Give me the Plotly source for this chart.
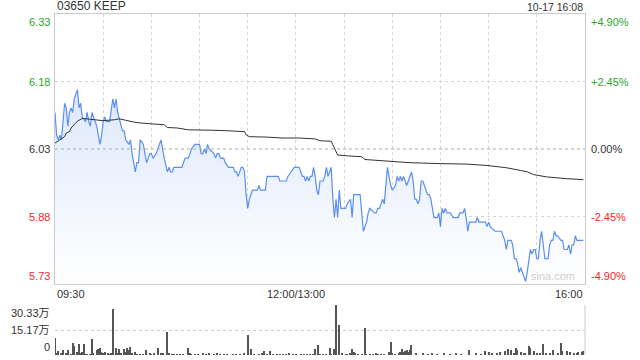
import plotly.graph_objects as go

# ---------------- data ----------------
title_text = "03650 KEEP"
stamp_text = "10-17 16:08"
prev_close = 6.03
pct_limit = 0.049
x_tick_labels = ["09:30", "12:00/13:00", "16:00"]
price_tick_labels = ["6.33", "6.18", "6.03", "5.88", "5.73"]
pct_tick_labels = ["+4.90%", "+2.45%", "0.00%", "-2.45%", "-4.90%"]
pct_levels = [0.049, 0.0245, 0.0, -0.0245, -0.049]
vol_tick_labels = ["30.33万", "15.17万", "0"]
vol_max = 303300

price_times = [
    "09:30","09:31","09:32","09:33","09:34","09:35","09:36","09:37","09:38","09:39",
    "09:40","09:41","09:42","09:44","09:45","09:46","09:47","09:49","09:50","09:51",
    "09:52","09:53","09:54","09:55","09:56","09:57","09:58","09:59","10:00","10:01",
    "10:02","10:04","10:06","10:07","10:08","10:09","10:11","10:12","10:13","10:14",
    "10:16","10:17","10:18","10:19","10:20","10:21","10:22","10:23","10:25","10:26",
    "10:27","10:28","10:29","10:30","10:31","10:33","10:34","10:35","10:36","10:37",
    "10:38","10:40","10:41","10:42","10:43","10:44","10:49","10:50","10:51","10:53",
    "10:55","10:57","11:00","11:01","11:02","11:03","11:04","11:05","11:06","11:09",
    "11:10","11:11","11:12","11:13","11:15","11:16","11:18","11:21","11:22","11:23",
    "11:24","11:25","11:26","11:27","11:28","11:29","11:30","11:31","11:32","11:33",
    "11:36","11:37","11:38","11:41","11:42","11:49","11:50","11:54","11:55","11:57",
    "11:59","13:02","13:04","13:05","13:06","13:07","13:08","13:09","13:10","13:11",
    "13:12","13:13","13:14","13:15","13:16","13:17","13:18","13:19","13:20","13:21",
    "13:22","13:23","13:24","13:25","13:26","13:27","13:28","13:29","13:31","13:32",
    "13:34","13:35","13:36","13:40","13:41","13:42","13:43","13:44","13:45","13:46",
    "13:49","13:50","13:51","13:52","13:53","13:54","13:55","13:56","13:57","13:58",
    "13:59","14:00","14:02","14:03","14:04","14:05","14:06","14:07","14:08","14:09",
    "14:10","14:12","14:13","14:14","14:15","14:16","14:17","14:18","14:19","14:20",
    "14:21","14:22","14:23","14:24","14:25","14:26","14:27","14:28","14:29","14:30",
    "14:31","14:32","14:33","14:34","14:36","14:38","14:39","14:41","14:42","14:44",
    "14:45","14:46","14:47","14:48","14:52","14:53","14:54","14:58","14:59","15:00",
    "15:01","15:04","15:05","15:08","15:09","15:10","15:11","15:12","15:14","15:15",
    "15:16","15:17","15:18","15:19","15:20","15:21","15:22","15:23","15:24","15:25",
    "15:26","15:27","15:28","15:29","15:30","15:31","15:32","15:33","15:34","15:35",
    "15:37","15:38","15:39","15:40","15:41","15:42","15:43","15:45","15:46","15:47",
    "15:48","15:49","15:50","15:51","15:52","15:53","15:54","15:55","15:59",
]
price_values = [
    6.11,6.06,6.05,6.06,6.05,6.09,6.13,6.12,6.08,6.11,
    6.12,6.11,6.14,6.16,6.12,6.13,6.10,6.09,6.11,6.09,
    6.08,6.11,6.10,6.09,6.08,6.06,6.04,6.06,6.09,6.10,
    6.09,6.09,6.14,6.12,6.14,6.11,6.08,6.07,6.07,6.05,
    6.04,6.05,6.02,6.00,5.98,6.00,6.00,6.05,6.04,6.02,
    6.00,6.01,6.02,6.02,6.01,6.02,6.03,6.04,6.05,6.03,
    6.01,5.98,5.99,5.98,5.98,5.99,5.99,6.00,6.01,6.01,
    6.03,6.04,6.04,6.02,6.02,6.03,6.02,6.04,6.03,6.02,
    6.01,6.02,6.02,6.01,6.01,6.00,5.99,5.99,5.98,5.98,
    5.97,5.98,5.99,5.99,5.98,5.93,5.90,5.92,5.93,5.94,
    5.94,5.95,5.94,5.94,5.97,5.97,5.96,5.96,5.97,5.98,
    5.99,5.99,5.97,5.97,5.96,5.97,5.96,5.97,5.97,5.99,
    5.97,5.94,5.93,5.96,5.96,5.96,5.97,5.99,5.97,5.98,
    5.99,5.92,5.88,5.92,5.88,5.94,5.90,5.90,5.90,5.91,
    5.92,5.88,5.93,5.93,5.89,5.85,5.86,5.87,5.89,5.90,
    5.89,5.89,5.90,5.90,5.91,5.92,5.91,5.95,5.99,5.97,
    5.95,5.94,5.95,5.97,5.96,5.97,5.96,5.97,5.96,5.95,
    5.96,5.98,5.96,5.92,5.92,5.91,5.92,5.96,5.96,5.95,
    5.94,5.93,5.93,5.92,5.90,5.88,5.88,5.88,5.89,5.86,
    5.90,5.89,5.90,5.89,5.89,5.88,5.88,5.88,5.89,5.89,
    5.90,5.88,5.85,5.87,5.87,5.88,5.87,5.87,5.86,5.87,
    5.86,5.85,5.85,5.85,5.84,5.83,5.81,5.83,5.83,5.82,
    5.79,5.79,5.78,5.76,5.77,5.76,5.75,5.74,5.76,5.79,
    5.81,5.80,5.81,5.81,5.79,5.79,5.83,5.85,5.82,5.79,
    5.79,5.82,5.83,5.83,5.85,5.84,5.84,5.83,5.83,5.81,
    5.81,5.81,5.82,5.80,5.82,5.82,5.84,5.83,5.83,
]

avg_times = [
    "09:30","09:33","09:36","09:37","09:39","09:40","09:42","09:44","09:47","09:50",
    "09:56","10:00","10:07","10:10","10:14","10:16","10:19","10:23","10:30","10:38",
    "10:40","10:46","10:53","11:00","11:09","11:17","11:28","11:29","11:31","11:42",
    "11:52","13:02","13:12","13:15","13:22","13:23","13:25","13:26","13:32","13:41",
    "13:43","13:56","14:11","14:30","14:46","14:59","15:11","15:20","15:24","15:28",
    "15:36","15:49","15:59",
]
avg_values = [
    6.043,6.050,6.057,6.065,6.068,6.076,6.083,6.091,6.097,6.096,
    6.093,6.092,6.094,6.096,6.093,6.091,6.089,6.087,6.085,6.083,
    6.077,6.076,6.072,6.072,6.071,6.070,6.068,6.061,6.057,6.056,
    6.054,6.054,6.052,6.048,6.047,6.039,6.022,6.017,6.015,6.013,
    6.007,6.004,6.000,5.998,5.997,5.994,5.989,5.983,5.980,5.974,
    5.969,5.965,5.963,
]

vol_times = [
    "09:30","09:31","09:32","09:34","09:35","09:37","09:38","09:40","09:41","09:42",
    "09:44","09:45","09:46","09:47","09:48","09:49","09:50","09:52","09:53","09:54",
    "09:56","09:57","09:58","09:59","10:00","10:01","10:03","10:04","10:05","10:06",
    "10:08","10:09","10:10","10:11","10:13","10:14","10:15","10:16","10:17","10:18",
    "10:20","10:21","10:23","10:25","10:27","10:29","10:30","10:32","10:34","10:36",
    "10:37","10:40","10:41","10:43","10:44","10:46","10:48","10:50","10:53","10:54",
    "10:55","10:57","10:59","11:02","11:04","11:06","11:09","11:11","11:13","11:15",
    "11:17","11:21","11:23","11:25","11:28","11:30","11:32","11:34","11:37","11:39",
    "11:40","11:42","11:44","11:46","11:48","11:50","11:52","11:54","11:56","11:58",
    "12:00","13:03","13:05","13:07","13:09","13:11","13:12","13:14","13:15","13:17",
    "13:19","13:21","13:22","13:24","13:25","13:27","13:29","13:31","13:32","13:34",
    "13:35","13:36","13:37","13:39","13:41","13:43","13:44","13:46","13:48","13:50",
    "13:51","13:53","13:55","13:58","13:59","14:00","14:02","14:04","14:05","14:06",
    "14:07","14:08","14:09","14:10","14:11","14:12","14:15","14:19","14:22","14:25",
    "14:28","14:32","14:36","14:40","14:43","14:48","14:52","14:55","14:58","15:00",
    "15:02","15:05","15:07","15:10","15:12","15:14","15:16","15:17","15:18","15:20",
    "15:22","15:23","15:25","15:26","15:28","15:30","15:32","15:34","15:36","15:38",
    "15:40","15:43","15:45","15:46","15:49","15:51","15:53","15:55","15:56","15:58",
    "15:59",
]
vol_values = [
    105000,10000,24000,10000,30000,10000,30000,5000,71000,55000,
    20000,65000,10000,16000,65000,4000,4000,4000,95000,10000,
    30000,36000,40000,16000,10000,20000,10000,4000,10000,277000,
    40000,10000,34000,10000,34000,20000,40000,30000,50000,10000,
    20000,6000,4000,6000,28000,12000,6000,10000,44000,8000,
    10000,141000,10000,6000,4000,6000,4000,6000,40000,10000,
    6000,6000,4000,10000,6000,10000,4000,10000,4000,6000,
    4000,4000,4000,4000,10000,121000,34000,6000,4000,10000,
    24000,6000,24000,6000,4000,4000,6000,6000,10000,4000,
    4000,4000,4000,4000,4000,4000,34000,61000,6000,6000,
    6000,40000,4000,36000,303000,182000,10000,6000,6000,10000,
    36000,20000,10000,6000,4000,162000,4000,4000,6000,10000,
    4000,6000,4000,16000,77000,10000,6000,10000,20000,36000,
    16000,24000,30000,20000,30000,61000,10000,8000,6000,8000,
    6000,8000,6000,10000,6000,30000,8000,6000,26000,20000,
    8000,8000,20000,24000,36000,30000,8000,40000,30000,20000,
    8000,10000,55000,40000,24000,8000,10000,67000,8000,10000,
    30000,8000,75000,26000,24000,20000,8000,10000,20000,20000,
    24000,
]

# ---------------- helpers ----------------
def to_idx(t):
    h, mn = map(int, t.split(":"))
    tot = h * 60 + mn
    return tot - 570 if tot <= 720 else tot - 780 + 150

SESSION_LEN = 330
px = [to_idx(t) for t in price_times]
ax_ = [to_idx(t) for t in avg_times]
vx = [to_idx(t) for t in vol_times]

ymin = prev_close * (1 - pct_limit)
ymax = prev_close * (1 + pct_limit)
levels = [prev_close * (1 + p) for p in pct_levels]

GREEN = "#2aa52a"
RED = "#ee2a24"
DARK = "#333333"
FONT = "Liberation Sans, Arial, Noto Sans CJK SC, sans-serif"

fig = go.Figure()

fig.add_trace(go.Scatter(
    x=px, y=price_values, mode="lines",
    line=dict(color="#5a8ff2", width=1.2),
    fill="tozeroy",
    fillgradient=dict(type="vertical", start=ymin, stop=max(price_values),
                      colorscale=[[0, "rgba(255,255,255,1)"], [1, "rgba(221,232,251,1)"]]),
    xaxis="x", yaxis="y", hoverinfo="skip", showlegend=False,
))
fig.add_trace(go.Scatter(
    x=ax_, y=avg_values, mode="lines",
    line=dict(color="#333333", width=1),
    xaxis="x", yaxis="y", hoverinfo="skip", showlegend=False,
))
fig.add_trace(go.Bar(
    x=vx, y=vol_values, width=0.75,
    marker=dict(color="#555555", line=dict(width=0)),
    xaxis="x2", yaxis="y2", hoverinfo="skip", showlegend=False,
))

main_bottom = 71 / 341
vol_top = 50 / 341

fig.update_layout(
    width=640, height=360,
    margin=dict(l=55, r=55, t=14, b=5),
    paper_bgcolor="white", plot_bgcolor="white",
    font=dict(family=FONT, size=11, color=DARK),
    bargap=0,
    xaxis=dict(domain=[0, 1], range=[0, SESSION_LEN], tickvals=list(range(0, SESSION_LEN + 1, 30)),
               showticklabels=False, ticks="", showgrid=True, gridcolor="#d6d6d6", griddash="dot",
               gridwidth=1, showline=True, mirror=True, linecolor="#cccccc", linewidth=1,
               zeroline=False, fixedrange=True),
    yaxis=dict(domain=[main_bottom, 1], range=[ymin, ymax],
               tickvals=[levels[1], levels[3]], showticklabels=False, ticks="",
               showgrid=True, gridcolor="#d6d6d6", griddash="dot", gridwidth=1,
               showline=True, mirror=True, linecolor="#cccccc", linewidth=1,
               zeroline=False, fixedrange=True),
    xaxis2=dict(domain=[0, 1], range=[0, SESSION_LEN], showticklabels=False, ticks="",
                showgrid=False, showline=False, zeroline=False, anchor="y2", fixedrange=True),
    yaxis2=dict(domain=[0, vol_top], range=[0, vol_max], tickvals=[vol_max / 2, vol_max],
                showticklabels=False, ticks="", showgrid=True, gridcolor="#cccccc",
                griddash="dot", gridwidth=1, showline=False, zeroline=False,
                anchor="x2", fixedrange=True),
)

shapes = [
    dict(type="line", xref="x domain", yref="y", x0=0, x1=1, y0=prev_close, y1=prev_close,
         line=dict(color="#aaaaaa", width=1, dash="dot")),
    dict(type="line", xref="x2 domain", yref="y2 domain", x0=1, x1=1, y0=0, y1=1,
         line=dict(color="#cccccc", width=1)),
]
fig.update_layout(shapes=shapes)

ann = []
# header
ann.append(dict(text=title_text, xref="paper", yref="paper", x=0, y=1, xanchor="left",
                yanchor="bottom", showarrow=False, font=dict(size=12, color=DARK), yshift=-1))
ann.append(dict(text=stamp_text, xref="paper", yref="paper", x=1, y=1, xanchor="right",
                yanchor="bottom", showarrow=False, font=dict(size=10.5, color=DARK), yshift=-1))

# price / percent labels
for i, (lab, plab, lv, p) in enumerate(zip(price_tick_labels, pct_tick_labels, levels, pct_levels)):
    col = GREEN if p > 0 else (RED if p < 0 else DARK)
    ya = "top" if i == 0 else ("bottom" if i == len(levels) - 1 else "middle")
    ann.append(dict(text=lab, xref="x domain", yref="y", x=0, y=lv, xanchor="right", yanchor=ya,
                    xshift=-3, showarrow=False, font=dict(size=11, color=col)))
    ann.append(dict(text=plab, xref="x domain", yref="y", x=1, y=lv, xanchor="left", yanchor=ya,
                    xshift=4, showarrow=False, font=dict(size=11, color=col)))

# time labels
x_tick_pos = [0, 150, SESSION_LEN]
x_anchor = ["left", "center", "right"]
for lab, xv, xa in zip(x_tick_labels, x_tick_pos, x_anchor):
    ann.append(dict(text=lab, xref="x", yref="y domain", x=xv, y=0, xanchor=xa, yanchor="top",
                    yshift=-2, showarrow=False, font=dict(size=11, color=DARK)))

# volume labels
vol_pos = [vol_max, vol_max / 2, 0]
vol_anchor = ["top", "middle", "bottom"]
for lab, yv, ya in zip(vol_tick_labels, vol_pos, vol_anchor):
    ann.append(dict(text=lab, xref="x2 domain", yref="y2", x=0, y=yv, xanchor="right", yanchor=ya,
                    xshift=-3, showarrow=False, font=dict(size=11, color=DARK)))

# watermark
ann.append(dict(text="sina.com", xref="x", yref="y domain", x=310, y=0, xanchor="center",
                yanchor="bottom", showarrow=False, font=dict(size=11, color="#cfcfcf")))

fig.update_layout(annotations=ann)

fig.write_html("out.html", config={"displayModeBar": False})
